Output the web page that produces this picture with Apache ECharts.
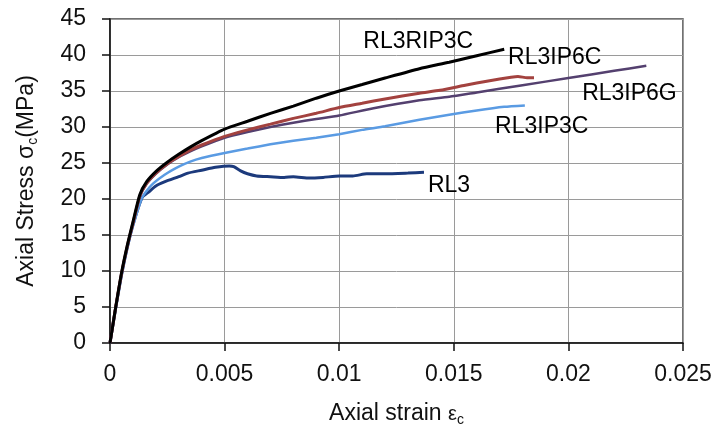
<!DOCTYPE html>
<html>
<head>
<meta charset="utf-8">
<script src="https://cdn.jsdelivr.net/npm/echarts@6/dist/echarts.min.js"></script>
<style>html,body{margin:0;padding:0;background:#fff}#c{width:720px;height:437px}</style>
</head>
<body>
<div id="c"></div>
<script>
var xTickLabels = ['0', '0.005', '0.01', '0.015', '0.02', '0.025'];
var yTickLabels = ['0', '5', '10', '15', '20', '25', '30', '35', '40', '45'];

var seriesNames = ['RL3RIP3C', 'RL3IP6C', 'RL3IP6G', 'RL3IP3C', 'RL3'];

var rl3rip3c = [[0,0],[0.00025,5],[0.0005,9.7],[0.00075,13.5],[0.001,16.8],[0.0013,20.6],[0.0016,22.4],[0.002,23.8],[0.0025,25.1],[0.003,26.2],[0.0035,27.2],[0.004,28.1],[0.005,29.7],[0.006,30.8],[0.007,31.9],[0.008,32.9],[0.009,34.0],[0.01,35.0],[0.011,35.9],[0.012,36.8],[0.0135,38.1],[0.0148,39.0],[0.016,39.9],[0.0172,40.8]];
var rl3ip6c = [[0,0],[0.00025,5],[0.0005,9.6],[0.00075,13.4],[0.001,16.6],[0.0013,20.4],[0.0016,22.2],[0.002,23.6],[0.0025,24.9],[0.003,25.9],[0.0035,26.8],[0.004,27.5],[0.005,28.7],[0.006,29.6],[0.007,30.4],[0.008,31.2],[0.009,31.9],[0.01,32.7],[0.011,33.3],[0.012,33.9],[0.0135,34.7],[0.0144,35.1],[0.0155,35.8],[0.0165,36.4],[0.0175,36.9],[0.0178,37.0],[0.0182,36.85],[0.0185,36.85]];
var rl3ip6g = [[0,0],[0.00025,5],[0.0005,9.6],[0.00075,13.3],[0.001,16.5],[0.0013,20.3],[0.0016,22.1],[0.002,23.5],[0.0025,24.8],[0.003,25.8],[0.0035,26.6],[0.004,27.3],[0.005,28.5],[0.006,29.3],[0.007,30.0],[0.008,30.6],[0.009,31.1],[0.01,31.6],[0.0115,32.6],[0.0135,33.7],[0.0148,34.2],[0.016,34.8],[0.018,35.8],[0.02,36.8],[0.022,37.8],[0.0234,38.5]];
var rl3ip3c = [[0,0],[0.00025,4.8],[0.0005,9.3],[0.00075,13.1],[0.001,16.2],[0.0014,20.2],[0.0018,21.9],[0.0024,23.4],[0.003,24.5],[0.0035,25.2],[0.004,25.7],[0.005,26.4],[0.006,27.0],[0.007,27.6],[0.008,28.1],[0.009,28.5],[0.01,29.0],[0.011,29.6],[0.012,30.1],[0.0135,31.0],[0.0148,31.7],[0.016,32.3],[0.0172,32.8],[0.0181,33.0]];
var rl3 = [[0,0],[0.00025,4.9],[0.0005,9.4],[0.00075,13.2],[0.001,16.4],[0.0014,20.2],[0.0017,21.0],[0.002,21.8],[0.0024,22.4],[0.003,23.1],[0.0034,23.6],[0.004,24.0],[0.0046,24.4],[0.0052,24.6],[0.0054,24.5],[0.0057,23.9],[0.006,23.5],[0.0064,23.2],[0.007,23.1],[0.0076,23.0],[0.008,23.1],[0.0087,22.9],[0.0093,23.0],[0.01,23.2],[0.0106,23.2],[0.0112,23.5],[0.012,23.5],[0.013,23.6],[0.0137,23.7]];

var labelX = [0.01105, 0.01737, 0.0206, 0.0168, 0.01387];
var labelY = [41.9, 39.65, 34.65, 30.0, 21.8];

var colors = ['#000000', '#a3423f', '#54406f', '#5a9be3', '#1c3a7c'];
var widths = [3, 3, 2.5, 2.5, 3];
var allData = [rl3rip3c, rl3ip6c, rl3ip6g, rl3ip3c, rl3];

var FONT = "'Liberation Sans', Arial, sans-serif";

var series = [];
for (var i = allData.length - 1; i >= 0; i--) {
  series.push({
    name: seriesNames[i], type: 'line', data: allData[i], showSymbol: false, symbol: 'none',
    smooth: 0.2, lineStyle: {color: colors[i], width: widths[i]}, z: 10 - i, silent: true
  });
}
var labelPts = [];
for (var j = 0; j < seriesNames.length; j++) labelPts.push({name: seriesNames[j], value: [labelX[j], labelY[j]]});
series.push({
  type: 'scatter', data: labelPts, symbolSize: 0, silent: true,
  itemStyle: {opacity: 1},
  label: {show: true, position: 'right', distance: 0, formatter: function (p) { return p.name; },
    color: '#000', opacity: 1, fontSize: 23, fontFamily: FONT}
});

var chart = echarts.init(document.getElementById('c'), null, {renderer: 'canvas'});
chart.setOption({
  animation: false,
  backgroundColor: '#fff',
  grid: {left: 110, right: 37, top: 19, bottom: 94, show: true, borderColor: '#444', borderWidth: 1.5},
  xAxis: {
    type: 'value', min: 0, max: 0.025, interval: 0.005,
    name: 'Axial strain {e|ε}{s|c}', nameLocation: 'middle', nameGap: 58,
    nameTextStyle: {color: '#111', fontSize: 23, fontFamily: FONT,
      rich: {e: {fontSize: 20, fontFamily: FONT, color: '#111'}, s: {fontSize: 14, fontFamily: FONT, color: '#111', padding: [12, 0, 0, 0]}}},
    axisLine: {lineStyle: {color: '#111', width: 1.5}},
    axisTick: {show: true, inside: false, length: 8, lineStyle: {color: '#111', width: 1.5}},
    axisLabel: {color: '#111', fontSize: 23, fontFamily: FONT, margin: 20,
      formatter: function (v, idx) { return xTickLabels[idx]; }},
    splitLine: {show: true, lineStyle: {color: '#9a9a9a', width: 1}}
  },
  yAxis: {
    type: 'value', min: 0, max: 45, interval: 5,
    name: 'Axial Stress σ{s|c}(MPa)', nameLocation: 'middle', nameGap: 70,
    nameTextStyle: {color: '#111', fontSize: 23, fontFamily: FONT,
      rich: {s: {fontSize: 14, fontFamily: FONT, color: '#111', padding: [12, 0, 0, 0]}}},
    axisLine: {show: true, lineStyle: {color: '#111', width: 1.5}},
    axisTick: {show: true, inside: false, length: 8, lineStyle: {color: '#111', width: 1.5}},
    axisLabel: {color: '#111', fontSize: 23, fontFamily: FONT, margin: 24,
      formatter: function (v, idx) { return yTickLabels[idx]; }},
    splitLine: {show: true, lineStyle: {color: '#9a9a9a', width: 1}}
  },
  series: series
});
</script>
</body>
</html>
